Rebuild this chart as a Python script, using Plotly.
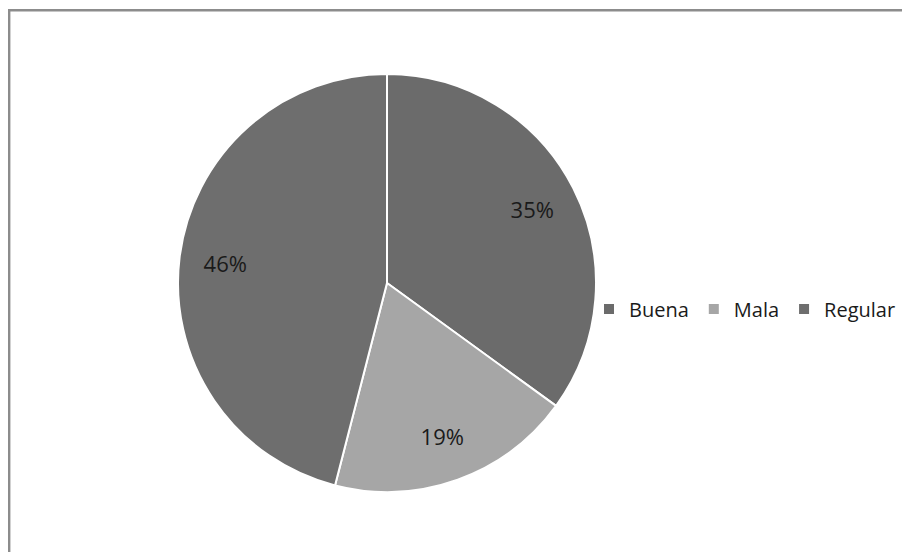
import plotly.graph_objects as go

categories = ["Buena", "Mala", "Regular"]
values = [35, 19, 46]
colors = ["#6b6b6b", "#a6a6a6", "#6e6e6e"]

# the page body adds an 8px offset, so the figure is sized/positioned to compensate
OFF = 8
W, H = 910 - OFF, 552 - OFF
cx, cy, r = 387 - OFF, 283 - OFF, 209
dom = dict(x=[(cx - r) / W, (cx + r) / W], y=[(H - cy - r) / H, (H - cy + r) / H])

fig = go.Figure()
fig.add_trace(go.Pie(
    labels=categories,
    values=values,
    sort=False,
    direction="clockwise",
    rotation=0,
    marker=dict(colors=colors, line=dict(color="white", width=2)),
    textinfo="none",
    domain=dom,
    hoverinfo="skip",
))
# label ring: places the percentage labels out toward the rim, as in the reference
fig.add_trace(go.Pie(
    labels=categories,
    values=values,
    sort=False,
    direction="clockwise",
    rotation=0,
    hole=0.56,
    marker=dict(colors=["rgba(0,0,0,0)"] * 3, line=dict(width=0)),
    texttemplate="%{percent:.0%}",
    textposition="inside",
    insidetextorientation="horizontal",
    textfont=dict(family="Open Sans", size=22, color="#1a1a1a"),
    domain=dom,
    showlegend=False,
    hoverinfo="skip",
))

fig.update_layout(
    width=W, height=H,
    margin=dict(l=0, r=0, t=0, b=0),
    paper_bgcolor="white",
    showlegend=True,
    legend=dict(
        orientation="h",
        x=(629 - OFF - 40) / W, xanchor="left",
        y=(H - (309 - OFF)) / H, yanchor="middle",
        font=dict(family="Open Sans", size=20, color="#1a1a1a"),
        itemwidth=30,
        tracegroupgap=0,
        bgcolor="rgba(0,0,0,0)",
    ),
    shapes=[dict(type="rect", xref="paper", yref="paper",
                 x0=1.2 / W, x1=1.05, y0=-0.05, y1=(H - 2.3) / H,
                 line=dict(color="#8c8c8c", width=2.4), fillcolor="rgba(0,0,0,0)")],
)

fig.write_html("out.html")
